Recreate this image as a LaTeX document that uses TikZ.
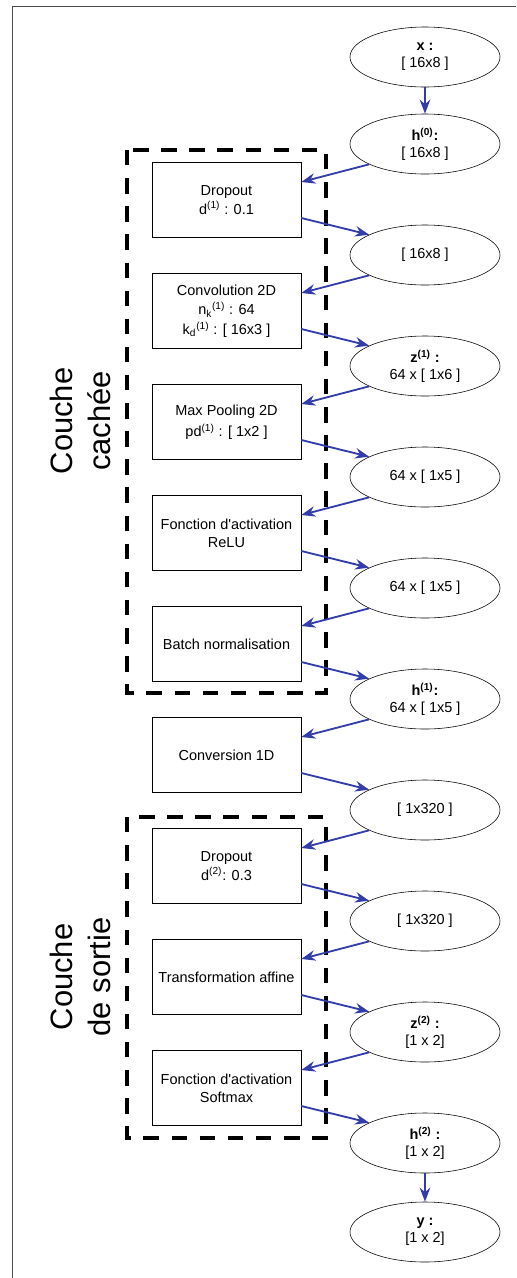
\documentclass[tikz,border=0pt]{standalone}
\usepackage{fontspec}
\setmainfont{Liberation Sans}
\usetikzlibrary{shapes.geometric,arrows.meta}
\definecolor{bleu}{RGB}{50,60,170}
\tikzset{
  etat/.style={ellipse, draw, thin, minimum width=3.75cm, minimum height=1.5cm, inner sep=0pt, align=center, font=\fontsize{10.3}{12}\selectfont},
  operation/.style={rectangle, draw, thin, minimum width=3.725cm, minimum height=1.875cm, inner sep=0pt, align=center, font=\fontsize{10.3}{13}\selectfont},
  flux/.style={-{Stealth[length=10pt,width=7.5pt]}, line width=1.3pt, color=bleu},
  cadre/.style={line width=3pt, dash pattern=on 11pt off 9pt},
  titre/.style={rotate=90, align=center, font=\fontsize{22}{27}\selectfont}
}
\begin{document}
\begin{tikzpicture}[x=0.025cm,y=-0.025cm]
\useasboundingbox (0,0) rectangle (516,1278);

%frame
\draw[black!70, line width=0.6pt] (12,1278) -- (12,6) -- (516,6);

%tensors (right column)
\node[etat] (x)   at (425,57)   {\textbf{x :}\\ {[ 16x8 ]}};
\node[etat] (h0)  at (425,144)  {\textbf{h\textsuperscript{(0)}:}\\ {[ 16x8 ]}};
\node[etat] (e1)  at (425,255)  {[ 16x8 ]};
\node[etat] (z1)  at (425,366)  {\textbf{z\textsuperscript{(1)} :}\\ 64 x [ 1x6 ]};
\node[etat] (e2)  at (425,477)  {64 x [ 1x5 ]};
\node[etat] (e3)  at (425,588)  {64 x [ 1x5 ]};
\node[etat] (h1)  at (425,699)  {\textbf{h\textsuperscript{(1)}:}\\ 64 x [ 1x5 ]};
\node[etat] (e4)  at (425,810)  {[ 1x320 ]};
\node[etat] (e5)  at (425,921)  {[ 1x320 ]};
\node[etat] (z2)  at (425,1032) {\textbf{z\textsuperscript{(2)} :}\\ {[1 x 2]}};
\node[etat] (h2)  at (425,1143) {\textbf{h\textsuperscript{(2)} :}\\ {[1 x 2]}};
\node[etat] (y)   at (425,1232) {\textbf{y :}\\ {[1 x 2]}};

%operations (left column)
\node[operation] (drop1) at (226.5,200)  {Dropout\\ d\textsuperscript{(1)} : 0.1};
\node[operation] (conv)  at (226.5,311)  {Convolution 2D\\[1pt] n\textsubscript{k}\textsuperscript{(1)} : 64\\[1pt] k\textsubscript{d}\textsuperscript{(1)} : [ 16x3 ]};
\node[operation] (pool)  at (226.5,422)  {Max Pooling 2D\\[2pt] pd\textsuperscript{(1)} : [ 1x2 ]};
\node[operation] (relu)  at (226.5,533)  {Fonction d\textquotesingle activation\\ ReLU};
\node[operation] (bn)    at (226.5,644)  {Batch normalisation};
\node[operation] (flat)  at (226.5,755)  {Conversion 1D};
\node[operation] (drop2) at (226.5,866)  {Dropout\\ d\textsuperscript{(2)}: 0.3};
\node[operation] (aff)   at (226.5,977)  {Transformation affine};
\node[operation] (soft)  at (226.5,1088) {Fonction d\textquotesingle activation\\ Softmax};

%layer frames
\draw[cadre] (127,150) rectangle (326,693);
\draw[cadre] (127,817) rectangle (326,1138);
\node[titre] (cachee) at (80,421) {Couche\\cachée};
\node[titre] (sortie) at (80,977) {Couche\\de sortie};

%connections
\draw[flux] (x.south) -- (h0.north);
\draw[flux] (h0.200) -- ([yshift=0.45cm]drop1.east);
\draw[flux] ([yshift=-0.45cm]drop1.east) -- (e1.160);
\draw[flux] (e1.200) -- ([yshift=0.45cm]conv.east);
\draw[flux] ([yshift=-0.45cm]conv.east) -- (z1.160);
\draw[flux] (z1.200) -- ([yshift=0.45cm]pool.east);
\draw[flux] ([yshift=-0.45cm]pool.east) -- (e2.160);
\draw[flux] (e2.200) -- ([yshift=0.45cm]relu.east);
\draw[flux] ([yshift=-0.45cm]relu.east) -- (e3.160);
\draw[flux] (e3.200) -- ([yshift=0.45cm]bn.east);
\draw[flux] ([yshift=-0.45cm]bn.east) -- (h1.160);
\draw[flux] (h1.200) -- ([yshift=0.45cm]flat.east);
\draw[flux] ([yshift=-0.45cm]flat.east) -- (e4.160);
\draw[flux] (e4.200) -- ([yshift=0.45cm]drop2.east);
\draw[flux] ([yshift=-0.45cm]drop2.east) -- (e5.160);
\draw[flux] (e5.200) -- ([yshift=0.45cm]aff.east);
\draw[flux] ([yshift=-0.45cm]aff.east) -- (z2.160);
\draw[flux] (z2.200) -- ([yshift=0.45cm]soft.east);
\draw[flux] ([yshift=-0.45cm]soft.east) -- (h2.160);
\draw[flux] (h2.south) -- (y.north);
\end{tikzpicture}
\end{document}
